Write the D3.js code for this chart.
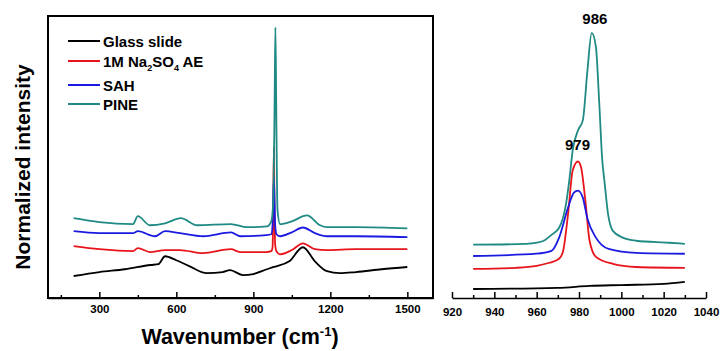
<!DOCTYPE html>
<html>
<head>
<meta charset="utf-8">
<script src="https://cdn.jsdelivr.net/npm/d3@7"></script>
<style>
  body { margin: 0; background: #fff; }
  text { font-family: "Liberation Sans", Arial, sans-serif; font-weight: bold; fill: #000; }
</style>
</head>
<body>
<svg class="plot" width="721" height="351"></svg>
<script>
// series names and colours
var names = ["Glass slide", "1M Na2SO4 AE", "SAH", "PINE"];
var colors = ["#000000", "#e8141c", "#1a1ae0", "#1f8a84"];

// full spectra (wavenumber, normalized intensity)
var glassFull = [[200,7.8],[300,9.2],[400,10.2],[500,11.7],[530,12],[556,14.8],[600,13.4],[650,11.3],[719,8.8],[780,9.2],[809,9.9],[860,8.1],[900,8.5],[953,10.2],[980,11],[992,11.3],[1040,13],[1093,18],[1140,13],[1187,9.5],[1237,8.8],[1300,9.2],[1400,10.2],[1500,11]];
var naFull = [[200,18.4],[300,17.3],[431,16.6],[450,17.7],[497,16.3],[556,17],[614,17],[704,15.9],[813,17.3],[848,16.3],[950,16.3],[970,16.6],[975,18],[978,35],[980,53.4],[982,35],[985,19],[990,16.6],[1004,15.5],[1050,17],[1093,19.4],[1140,17.3],[1187,17],[1300,17.3],[1500,17.3]];
var sahFull = [[200,23.7],[300,23],[431,23],[450,23.7],[517,21.9],[556,23.7],[614,23],[704,21.9],[813,23.3],[848,21.9],[950,22.3],[970,22.6],[975,26],[980,43],[985,26],[990,22.6],[1004,21.9],[1050,23.3],[1093,25],[1140,23],[1187,21.9],[1300,21.9],[1500,21.6]];
var pineFull = [[200,28.3],[300,26.9],[431,26.2],[450,29],[497,25.8],[556,26.5],[618,28.3],[680,25.8],[813,26.2],[875,25.1],[953,25.4],[970,27.2],[978,35],[983,70],[986,96],[989,70],[994,31.4],[1004,26.2],[1050,27.2],[1109,29.3],[1160,25.8],[1187,25.1],[1300,25.1],[1500,24.7]];

// zoomed spectra around the main band
var glassZoom = [[930,3.2],[970,3.6],[985,4.3],[1000,4.6],[1020,5],[1030,5.7]];
var naZoom = [[930,10.3],[950,10.7],[960,11.4],[966,12.5],[970.6,13.9],[972.5,16.7],[975,31],[977,45.2],[979.5,48.4],[981,46.3],[983,34.5],[985,20.3],[988,14.6],[996,12.1],[1007,11],[1030,10.7]];
var sahZoom = [[930,14.9],[960,15.7],[967,16.7],[970.6,21.4],[974.8,32],[977.6,37.4],[979.5,38.1],[981.8,35.6],[984,28.1],[988,21.4],[994,17.4],[1007,16],[1030,15.7]];
var pineZoom = [[930,18.9],[955,19.2],[960,19.6],[964,20.6],[967,22.4],[970.6,24.9],[973.9,33.5],[975.4,41.6],[977,52.3],[979.5,59.4],[981.8,63],[984,80.8],[986,94],[988,89],[989.5,70.1],[991,48.8],[992,41.6],[993.7,29.9],[996,23.8],[1000.7,21.4],[1007,20.3],[1022.5,19.6],[1030,19.2]];

// tick values
var fullMajor = [300, 600, 900, 1200, 1500];
var fullMinor = [150, 450, 750, 1050, 1350];
var zoomMajor = [920, 940, 960, 980, 1000, 1020, 1040];
var zoomMinor = [930, 950, 970, 990, 1010, 1030];

// peak labels (anchored in data units)
var peakLabels = [{text: "986", x: 987.5, y: 97}, {text: "979", x: 979.3, y: 52.5}];

var svg = d3.select(".plot");
var fmt = d3.format("d");

var fullSeries = [glassFull, naFull, sahFull, pineFull];
var zoomSeries = [glassZoom, naZoom, sahZoom, pineZoom];

/* LEFT PANEL */
var x1 = d3.scaleLinear().domain([100, 1600]).range([48, 433]);
var y1 = d3.scaleLinear().domain([0, 100]).range([298, 16]);

var line1 = d3.line()
    .x(function(d) { return x1(d[0]); })
    .y(function(d) { return y1(d[1]); })
    .curve(d3.curveMonotoneX);

svg.selectAll(".full")
    .data(fullSeries)
    .enter().append("path")
    .attr("class", "full")
    .attr("d", line1)
    .attr("fill", "none")
    .attr("stroke", function(d, i) { return colors[i]; })
    .attr("stroke-width", 1.8);

// bottom axis, ticks pointing in
var axL = svg.append("g").attr("transform", "translate(0,298)")
    .call(d3.axisBottom(x1).tickValues(fullMajor).tickFormat(fmt).tickSizeInner(-6).tickSizeOuter(0).tickPadding(7));
svg.append("g").attr("transform", "translate(0,298)")
    .call(d3.axisBottom(x1).tickValues(fullMinor).tickSizeInner(-3).tickSizeOuter(0).tickFormat(""))
    .select(".domain").remove();
axL.selectAll("text").style("font-size", "11.5px").style("font-family", "Liberation Sans, Arial, sans-serif").style("font-weight", "bold");

// axis titles
var xt = svg.append("text")
    .attr("x", 240).attr("y", 344)
    .attr("text-anchor", "middle")
    .style("font-size", "21.5px");
xt.append("tspan").text("Wavenumber (cm");
xt.append("tspan").attr("dy", -8).style("font-size", "13px").text("-1");
xt.append("tspan").attr("dy", 8).text(")");

svg.append("text")
    .attr("transform", "translate(30,167) rotate(-90)")
    .attr("text-anchor", "middle")
    .style("font-size", "21px")
    .text("Normalized intensity");

// legend
var legendY = [41, 61, 85, 104];
var lg = svg.selectAll(".legend")
    .data(names)
    .enter().append("g")
    .attr("class", "legend")
    .attr("transform", function(d, i) { return "translate(68," + legendY[i] + ")"; });
lg.append("line")
    .attr("x1", 0).attr("x2", 32)
    .attr("stroke", function(d, i) { return colors[i]; })
    .attr("stroke-width", 2);
var lt = lg.append("text")
    .attr("x", 35).attr("y", 5.5)
    .style("font-size", "15px");
lt.each(function(d) {
  var t = d3.select(this);
  if (d === "1M Na2SO4 AE") {
    t.append("tspan").text("1M Na");
    t.append("tspan").attr("dy", 4).style("font-size", "9px").text("2");
    t.append("tspan").attr("dy", -4).text("SO");
    t.append("tspan").attr("dy", 4).style("font-size", "9px").text("4");
    t.append("tspan").attr("dy", -4).text(" AE");
  } else {
    t.text(d);
  }
});

/* RIGHT PANEL */
var x2 = d3.scaleLinear().domain([920, 1040]).range([452, 706]);
var y2 = d3.scaleLinear().domain([0, 100]).range([298, 16]);

var line2 = d3.line()
    .x(function(d) { return x2(d[0]); })
    .y(function(d) { return y2(d[1]); })
    .curve(d3.curveMonotoneX);

svg.selectAll(".zoom")
    .data(zoomSeries)
    .enter().append("path")
    .attr("class", "zoom")
    .attr("d", line2)
    .attr("fill", "none")
    .attr("stroke", function(d, i) { return colors[i]; })
    .attr("stroke-width", 1.8);

var axR = svg.append("g").attr("transform", "translate(0,298)")
    .call(d3.axisBottom(x2).tickValues(zoomMajor).tickFormat(fmt).tickSizeInner(-6).tickSizeOuter(0).tickPadding(10));
svg.append("g").attr("transform", "translate(0,298)")
    .call(d3.axisBottom(x2).tickValues(zoomMinor).tickSizeInner(-3).tickSizeOuter(0).tickFormat(""))
    .select(".domain").remove();
axR.selectAll("text").style("font-size", "11.5px").style("font-family", "Liberation Sans, Arial, sans-serif").style("font-weight", "bold");

// explicit stroke on axis lines instead of currentColor
svg.selectAll(".domain, .tick line").style("stroke", "#000").style("stroke-width", "1.5px");

svg.selectAll(".peak")
    .data(peakLabels)
    .enter().append("text")
    .attr("class", "peak")
    .attr("x", function(d) { return x2(d.x); })
    .attr("y", function(d) { return y2(d.y); })
    .attr("text-anchor", "middle")
    .style("font-size", "15px")
    .text(function(d) { return d.text; });

// frame round the left panel, four sides from the scale ranges, drawn last
var fx = x1.range(), fy = y1.range();
var sides = [[fx[0], fy[0], fx[0], fy[1]], [fx[0], fy[1], fx[1], fy[1]], [fx[1], fy[1], fx[1], fy[0]], [fx[0], fy[0], fx[1], fy[0]]];
svg.append("g").attr("class", "box").selectAll("line")
    .data(sides)
    .enter().append("line")
    .attr("x1", function(d) { return d[0]; })
    .attr("y1", function(d) { return d[1]; })
    .attr("x2", function(d) { return d[2]; })
    .attr("y2", function(d) { return d[3]; })
    .style("stroke", "#000").style("stroke-width", "2px").style("stroke-linecap", "square");
</script>
</body>
</html>
